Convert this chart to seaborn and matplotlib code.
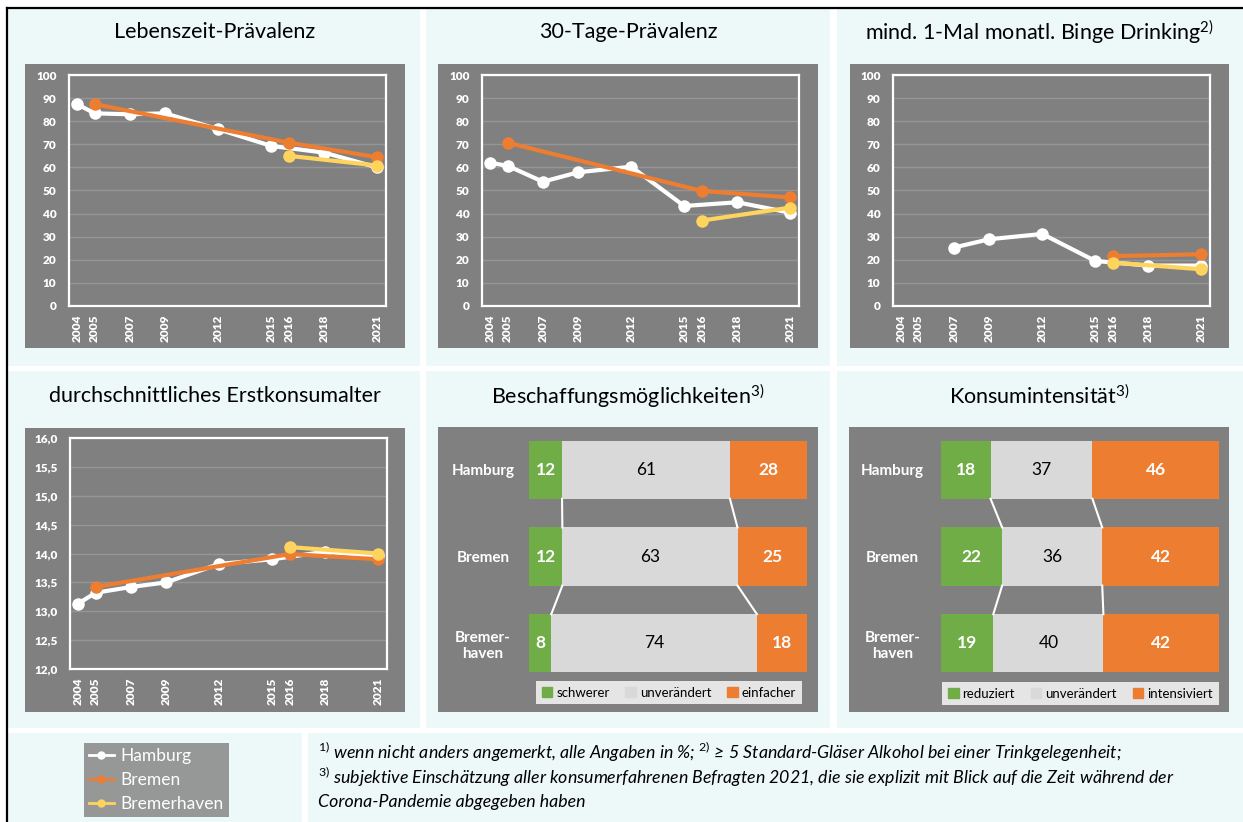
import numpy as np
import pandas as pd
import seaborn as sns
import matplotlib.pyplot as plt
from matplotlib.patches import Rectangle, Patch
from matplotlib.lines import Line2D

# Jahre auf der x-Achse
years = [2004, 2005, 2007, 2009, 2012, 2015, 2016, 2018, 2021]
hh_years = [2004, 2005, 2007, 2009, 2012, 2015, 2018, 2021]
hb_years = [2005, 2016, 2021]
bhv_years = [2016, 2021]
binge_hh_years = [2007, 2009, 2012, 2015, 2018, 2021]
binge_hb_years = [2016, 2021]

# Werte
lebenszeit_hh = [87.4, 83.4, 83.0, 83.4, 76.5, 69.3, 66.4, 60.0]
lebenszeit_hb = [87.4, 70.7, 64.4]
lebenszeit_bhv = [65.0, 60.8]
tage30_hh = [62.0, 60.7, 53.8, 57.9, 60.3, 43.3, 44.9, 40.4]
tage30_hb = [70.7, 49.8, 47.0]
tage30_bhv = [37.0, 42.6]
binge_hh = [25.3, 28.9, 31.2, 19.5, 17.5, 17.5]
binge_hb = [21.6, 22.4]
binge_bhv = [18.8, 15.9]
alter_hh = [13.13, 13.32, 13.42, 13.50, 13.82, 13.90, 14.03, 13.95]
alter_hb = [13.42, 13.99, 13.90]
alter_bhv = [14.11, 14.00]

cities = ["Hamburg", "Bremen", "Bremer-\nhaven"]
beschaffung_schwerer = [12, 12, 8]
beschaffung_unveraendert = [61, 63, 74]
beschaffung_einfacher = [28, 25, 18]
konsum_reduziert = [18, 22, 19]
konsum_unveraendert = [37, 36, 40]
konsum_intensiviert = [46, 42, 42]

city_names = ["Hamburg", "Bremen", "Bremerhaven"]
palette = {"Hamburg": "#FFFFFF", "Bremen": "#ED7D31", "Bremerhaven": "#FFD45E"}
GREY = "#808080"
PANEL = "#EDF8F8"
GREEN = "#70AD47"
LIGHT = "#D9D9D9"
ORANGE = "#ED7D31"

plt.rcParams["font.family"] = ["Lato", "DejaVu Sans"]
plt.rcParams["mathtext.fontset"] = "custom"
plt.rcParams["mathtext.rm"] = "Lato"
plt.rcParams["mathtext.it"] = "Lato:italic"

W, H = 1243, 822
fig = plt.figure(figsize=(W / 100, H / 100), dpi=100)
fig.patch.set_facecolor("white")


def rect(x0, y0, x1, y1):
    return [x0 / W, 1 - y1 / H, (x1 - x0) / W, (y1 - y0) / H]


def box(x0, y0, x1, y1, color, z):
    r = rect(x0, y0, x1, y1)
    fig.add_artist(Rectangle((r[0], r[1]), r[2], r[3], transform=fig.transFigure,
                             facecolor=color, edgecolor="none", zorder=z))


# Panel-Hintergruende
cols = [(8, 420), (426, 830), (837, 1243)]
for (x0, x1) in cols:
    box(x0, 9, x1, 366, PANEL, -5)
    box(x0, 371, x1, 728, PANEL, -5)
box(8, 733, 302, 822, PANEL, -5)
box(308, 733, 1243, 822, PANEL, -5)
fig.add_artist(Line2D([7 / W, 7 / W], [0, 1 - 8 / H], transform=fig.transFigure, color="black", lw=1.6))
fig.add_artist(Line2D([7 / W, 1], [1 - 8 / H, 1 - 8 / H], transform=fig.transFigure, color="black", lw=1.6))


def line_panel(title, outer, frame, parts, ylim, yticks, ylabels, title_y):
    box(*outer, GREY, -2)
    ax = fig.add_axes(rect(*frame))
    ax.set_facecolor(GREY)
    rows = []
    for city, yrs, vals in parts:
        for y, v in zip(yrs, vals):
            rows.append({"Jahr": y, "Wert": v, "Stadt": city})
    df = pd.DataFrame(rows)
    sns.lineplot(data=df, x="Jahr", y="Wert", hue="Stadt", hue_order=city_names,
                 palette=palette, marker="o", markersize=9, markeredgewidth=0,
                 linewidth=3, legend=False, ax=ax)
    ax.set_xlim(2003.55, 2021.5)
    ax.set_ylim(*ylim)
    ax.set_xticks(years)
    ax.set_xticklabels([str(y) for y in years], rotation=90, fontweight="heavy")
    ax.set_yticks(yticks)
    ax.set_yticklabels(ylabels, fontweight="heavy")
    ax.tick_params(axis="y", length=0, pad=9, colors="white", labelsize=8.5)
    ax.tick_params(axis="x", length=0, pad=6, colors="white", labelsize=8.5)
    ax.yaxis.grid(True, color="#959595", lw=1)
    ax.xaxis.grid(False)
    ax.set_axisbelow(True)
    for s in ax.spines.values():
        s.set_color("white")
        s.set_linewidth(1.6)
    ax.set_xlabel("")
    ax.set_ylabel("")
    cx = (outer[0] + outer[2]) / 2
    fig.text(cx / W, 1 - title_y / H, title, ha="center", va="center", fontsize=15.5)


pct_ticks = list(range(0, 101, 10))
line_panel("Lebenszeit-Prävalenz", (25, 64, 405, 348), (69, 75, 386, 306),
           [("Hamburg", hh_years, lebenszeit_hh), ("Bremen", hb_years, lebenszeit_hb),
            ("Bremerhaven", bhv_years, lebenszeit_bhv)],
           (0, 100), pct_ticks, [str(t) for t in pct_ticks], 32)
line_panel("30-Tage-Prävalenz", (438, 64, 818, 348), (482, 75, 799, 306),
           [("Hamburg", hh_years, tage30_hh), ("Bremen", hb_years, tage30_hb),
            ("Bremerhaven", bhv_years, tage30_bhv)],
           (0, 100), pct_ticks, [str(t) for t in pct_ticks], 32)
line_panel("mind. 1-Mal monatl. Binge Drinking$^{2)}$", (850, 64, 1229, 348), (893, 75, 1210, 306),
           [("Hamburg", binge_hh_years, binge_hh), ("Bremen", binge_hb_years, binge_hb),
            ("Bremerhaven", bhv_years, binge_bhv)],
           (0, 100), pct_ticks, [str(t) for t in pct_ticks], 32)
age_ticks = [12.0, 12.5, 13.0, 13.5, 14.0, 14.5, 15.0, 15.5, 16.0]
line_panel("durchschnittliches Erstkonsumalter", (25, 428, 405, 712), (70, 438, 387, 669),
           [("Hamburg", hh_years, alter_hh), ("Bremen", hb_years, alter_hb),
            ("Bremerhaven", bhv_years, alter_bhv)],
           (12, 16), age_ticks, [f"{t:.1f}".replace(".", ",") for t in age_ticks], 396)


def bar_panel(title, outer, bars_x, parts, labels, label_pad, leg_box):
    box(*outer, GREY, -2)
    x0, x1 = bars_x
    ax = fig.add_axes(rect(x0, 429, x1, 684))
    ax.set_facecolor("none")
    vals = np.array(parts, dtype=float)
    total = vals.sum(axis=0)
    cum1 = vals[0] / total * 100
    cum2 = (vals[0] + vals[1]) / total * 100
    cum3 = (vals[0] + vals[1] + vals[2]) / total * 100
    w = 0.67
    sns.barplot(x=cum3, y=cities, color=ORANGE, saturation=1, width=w, errorbar=None, ax=ax, orient="h")
    sns.barplot(x=cum2, y=cities, color=LIGHT, saturation=1, width=w, errorbar=None, ax=ax, orient="h")
    sns.barplot(x=cum1, y=cities, color=GREEN, saturation=1, width=w, errorbar=None, ax=ax, orient="h")
    for bnd in (cum1, cum2):
        for i in range(len(cities) - 1):
            ax.plot([bnd[i], bnd[i + 1]], [i + w / 2, i + 1 - w / 2], color="white", lw=1.5)
    for i in range(len(cities)):
        ax.text(cum1[i] / 2, i, str(parts[0][i]), ha="center", va="center",
                color="white", fontweight="bold", fontsize=12.5)
        ax.text((cum1[i] + cum2[i]) / 2, i, str(parts[1][i]), ha="center", va="center",
                color="black", fontsize=12.5)
        ax.text((cum2[i] + cum3[i]) / 2, i, str(parts[2][i]), ha="center", va="center",
                color="white", fontweight="bold", fontsize=12.5)
    ax.set_xlim(0, 100)
    ax.set_xticks([])
    ax.set_xlabel("")
    ax.set_ylabel("")
    for s in ax.spines.values():
        s.set_visible(False)
    ax.tick_params(axis="y", length=0, pad=label_pad, colors="white", labelsize=11)
    for lab in ax.get_yticklabels():
        lab.set_fontweight("bold")
        lab.set_ha("center")
        lab.set_multialignment("center")
    handles = [Patch(color=c) for c in (GREEN, LIGHT, ORANGE)]
    lx0, ly0, lx1, ly1 = leg_box
    leg = fig.legend(handles, labels, loc="center", ncol=3, frameon=True, fancybox=False,
                     bbox_to_anchor=((lx0 + lx1) / 2 / W, 1 - (ly0 + ly1) / 2 / H),
                     fontsize=9.5, handlelength=0.8, handleheight=0.8, handletextpad=0.3,
                     columnspacing=1.2, borderpad=0.45)
    leg.get_frame().set_facecolor("white")
    leg.get_frame().set_edgecolor("none")
    cx = (outer[0] + outer[2]) / 2
    fig.text(cx / W, 1 - 396 / H, title, ha="center", va="center", fontsize=15.5)


bar_panel("Beschaffungsmöglichkeiten$^{3)}$", (438, 427, 818, 712), (529, 807),
          [beschaffung_schwerer, beschaffung_unveraendert, beschaffung_einfacher],
          ["schwerer", "unverändert", "einfacher"], 33, (531, 678, 807, 707))
bar_panel("Konsumintensität$^{3)}$", (849, 427, 1229, 712), (941, 1219),
          [konsum_reduziert, konsum_unveraendert, konsum_intensiviert],
          ["reduziert", "unverändert", "intensiviert"], 35, (943, 680, 1218, 707))

# Legende unten links
handles = [Line2D([], [], color=palette[c], marker="o", markersize=5, lw=2) for c in city_names]
leg = fig.legend(handles, city_names, loc="upper left", bbox_to_anchor=(84 / W, 1 - 743 / H),
                 frameon=True, fancybox=False, fontsize=12.5, labelcolor="white",
                 handlelength=1.4, handletextpad=0.4, labelspacing=0.45, borderpad=0.3,
                 borderaxespad=0)
leg.get_frame().set_facecolor(GREY)
leg.get_frame().set_edgecolor("none")

# Fussnoten
notes = [r"$^{\mathit{1)}}$ wenn nicht anders angemerkt, alle Angaben in %; $^{\mathit{2)}}$ ≥ 5 Standard-Gläser Alkohol bei einer Trinkgelegenheit;",
         r"$^{\mathit{3)}}$ subjektive Einschätzung aller konsumerfahrenen Befragten 2021, die sie explizit mit Blick auf die Zeit während der",
         "Corona-Pandemie abgegeben haben"]
for i, t in enumerate(notes):
    fig.text(318 / W, 1 - (752 + 25 * i) / H, t, ha="left", va="center", fontsize=12.8,
             style="italic")

fig.savefig("out.png", dpi=100)
